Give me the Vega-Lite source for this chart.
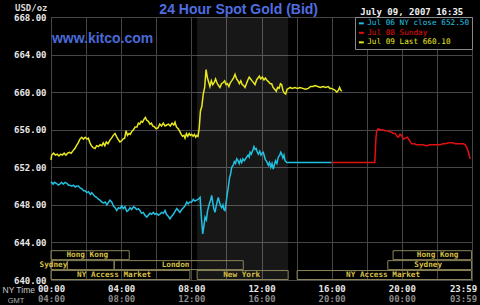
{
"$schema": "https://vega.github.io/schema/vega-lite/v6.json",
"width": 421, "height": 263,
"autosize": {"type": "none"},
"padding": {"left": 51, "top": 17, "right": 8, "bottom": 25},
"background": "#000000",
"config": {
  "view": {"stroke": "#5a5a5a", "strokeWidth": 1},
  "axis": {"domain": false, "ticks": false, "gridColor": "#464646", "gridWidth": 1, "labelFont": "DejaVu Sans Mono", "labelFontWeight": "bold", "labelFontSize": 9, "labelOverlap": false, "tickCount": 40}
},
"datasets": {
"sessions": [
{"m":"Hong Kong","tier":"1","start":0,"end":4.46,"at":2.07},
{"m":"Sydney","tier":"2","start":0,"end":0.93,"at":0.14},
{"m":"","tier":"2","start":0.93,"end":3.6,"at":2.2},
{"m":"London","tier":"2","start":3.6,"end":10.96,"at":7.1},
{"m":"NY Access Market","tier":"3","start":0,"end":7.92,"at":3.6},
{"m":"New York","tier":"3","start":8.33,"end":13.52,"at":10.87},
{"m":"NY Access Market","tier":"3","start":14.03,"end":23.97,"at":18.93},
{"m":"Sydney","tier":"2","start":19.2,"end":23.97,"at":21.5},
{"m":"Hong Kong","tier":"1","start":19.5,"end":23.97,"at":22.04}
],
"prices": [
{"s":"Jul 09","h":0.00,"p":652.8},{"s":"Jul 09","h":0.04,"p":653.3},{"s":"Jul 09","h":0.15,"p":653.5},{"s":"Jul 09","h":0.25,"p":653.3},{"s":"Jul 09","h":0.35,"p":653.4},{"s":"Jul 09","h":0.45,"p":653.2},{"s":"Jul 09","h":0.55,"p":653.4},{"s":"Jul 09","h":0.65,"p":653.3},{"s":"Jul 09","h":0.75,"p":653.5},{"s":"Jul 09","h":0.85,"p":653.3},{"s":"Jul 09","h":0.95,"p":653.5},{"s":"Jul 09","h":1.05,"p":653.6},{"s":"Jul 09","h":1.15,"p":653.5},{"s":"Jul 09","h":1.27,"p":653.8},{"s":"Jul 09","h":1.36,"p":654.0},{"s":"Jul 09","h":1.45,"p":654.3},{"s":"Jul 09","h":1.55,"p":654.6},{"s":"Jul 09","h":1.65,"p":655.0},{"s":"Jul 09","h":1.75,"p":655.2},{"s":"Jul 09","h":1.85,"p":655.0},{"s":"Jul 09","h":1.95,"p":655.2},{"s":"Jul 09","h":2.05,"p":655.0},{"s":"Jul 09","h":2.13,"p":655.1},{"s":"Jul 09","h":2.22,"p":654.6},{"s":"Jul 09","h":2.3,"p":654.3},{"s":"Jul 09","h":2.4,"p":654.1},{"s":"Jul 09","h":2.51,"p":654.0},{"s":"Jul 09","h":2.6,"p":654.3},{"s":"Jul 09","h":2.7,"p":654.2},{"s":"Jul 09","h":2.8,"p":654.4},{"s":"Jul 09","h":2.9,"p":654.3},{"s":"Jul 09","h":2.98,"p":654.6},{"s":"Jul 09","h":3.07,"p":654.3},{"s":"Jul 09","h":3.15,"p":654.7},{"s":"Jul 09","h":3.25,"p":654.5},{"s":"Jul 09","h":3.36,"p":654.9},{"s":"Jul 09","h":3.45,"p":655.1},{"s":"Jul 09","h":3.55,"p":655.4},{"s":"Jul 09","h":3.65,"p":655.6},{"s":"Jul 09","h":3.73,"p":655.3},{"s":"Jul 09","h":3.82,"p":655.0},{"s":"Jul 09","h":3.93,"p":654.7},{"s":"Jul 09","h":4.02,"p":654.8},{"s":"Jul 09","h":4.1,"p":655.0},{"s":"Jul 09","h":4.2,"p":655.1},{"s":"Jul 09","h":4.28,"p":655.9},{"s":"Jul 09","h":4.36,"p":655.4},{"s":"Jul 09","h":4.45,"p":655.6},{"s":"Jul 09","h":4.52,"p":655.5},{"s":"Jul 09","h":4.6,"p":655.8},{"s":"Jul 09","h":4.7,"p":656.0},{"s":"Jul 09","h":4.8,"p":656.3},{"s":"Jul 09","h":4.9,"p":656.3},{"s":"Jul 09","h":4.98,"p":656.7},{"s":"Jul 09","h":5.06,"p":656.6},{"s":"Jul 09","h":5.14,"p":656.9},{"s":"Jul 09","h":5.22,"p":656.8},{"s":"Jul 09","h":5.3,"p":657.1},{"s":"Jul 09","h":5.38,"p":657.3},{"s":"Jul 09","h":5.46,"p":657.0},{"s":"Jul 09","h":5.55,"p":656.9},{"s":"Jul 09","h":5.64,"p":656.6},{"s":"Jul 09","h":5.72,"p":656.7},{"s":"Jul 09","h":5.8,"p":656.4},{"s":"Jul 09","h":5.9,"p":656.3},{"s":"Jul 09","h":6.0,"p":656.1},{"s":"Jul 09","h":6.1,"p":656.2},{"s":"Jul 09","h":6.2,"p":656.6},{"s":"Jul 09","h":6.3,"p":656.4},{"s":"Jul 09","h":6.4,"p":656.7},{"s":"Jul 09","h":6.5,"p":656.4},{"s":"Jul 09","h":6.6,"p":656.5},{"s":"Jul 09","h":6.7,"p":656.6},{"s":"Jul 09","h":6.8,"p":656.4},{"s":"Jul 09","h":6.9,"p":656.7},{"s":"Jul 09","h":7.0,"p":656.5},{"s":"Jul 09","h":7.07,"p":656.8},{"s":"Jul 09","h":7.15,"p":656.3},{"s":"Jul 09","h":7.25,"p":656.1},{"s":"Jul 09","h":7.35,"p":655.8},{"s":"Jul 09","h":7.42,"p":655.5},{"s":"Jul 09","h":7.5,"p":655.3},{"s":"Jul 09","h":7.58,"p":655.4},{"s":"Jul 09","h":7.64,"p":655.1},{"s":"Jul 09","h":7.72,"p":655.6},{"s":"Jul 09","h":7.8,"p":655.3},{"s":"Jul 09","h":7.88,"p":655.6},{"s":"Jul 09","h":7.95,"p":655.4},{"s":"Jul 09","h":8.02,"p":655.5},{"s":"Jul 09","h":8.1,"p":655.3},{"s":"Jul 09","h":8.18,"p":655.5},{"s":"Jul 09","h":8.25,"p":655.2},{"s":"Jul 09","h":8.32,"p":655.4},{"s":"Jul 09","h":8.38,"p":655.3},{"s":"Jul 09","h":8.45,"p":656.2},{"s":"Jul 09","h":8.52,"p":658.0},{"s":"Jul 09","h":8.6,"p":658.5},{"s":"Jul 09","h":8.68,"p":659.8},{"s":"Jul 09","h":8.76,"p":660.5},{"s":"Jul 09","h":8.84,"p":662.4},{"s":"Jul 09","h":8.92,"p":661.5},{"s":"Jul 09","h":9.0,"p":661.0},{"s":"Jul 09","h":9.06,"p":660.6},{"s":"Jul 09","h":9.14,"p":661.2},{"s":"Jul 09","h":9.22,"p":660.8},{"s":"Jul 09","h":9.3,"p":661.0},{"s":"Jul 09","h":9.38,"p":661.4},{"s":"Jul 09","h":9.46,"p":661.0},{"s":"Jul 09","h":9.55,"p":660.7},{"s":"Jul 09","h":9.63,"p":660.5},{"s":"Jul 09","h":9.72,"p":660.9},{"s":"Jul 09","h":9.8,"p":661.0},{"s":"Jul 09","h":9.9,"p":661.2},{"s":"Jul 09","h":9.98,"p":660.8},{"s":"Jul 09","h":10.06,"p":660.9},{"s":"Jul 09","h":10.14,"p":660.6},{"s":"Jul 09","h":10.22,"p":661.0},{"s":"Jul 09","h":10.3,"p":661.2},{"s":"Jul 09","h":10.4,"p":661.5},{"s":"Jul 09","h":10.49,"p":661.9},{"s":"Jul 09","h":10.58,"p":661.4},{"s":"Jul 09","h":10.66,"p":661.2},{"s":"Jul 09","h":10.74,"p":660.9},{"s":"Jul 09","h":10.82,"p":661.2},{"s":"Jul 09","h":10.9,"p":660.8},{"s":"Jul 09","h":10.98,"p":660.7},{"s":"Jul 09","h":11.06,"p":660.5},{"s":"Jul 09","h":11.14,"p":660.9},{"s":"Jul 09","h":11.22,"p":661.3},{"s":"Jul 09","h":11.3,"p":661.6},{"s":"Jul 09","h":11.38,"p":661.4},{"s":"Jul 09","h":11.46,"p":661.2},{"s":"Jul 09","h":11.55,"p":661.0},{"s":"Jul 09","h":11.63,"p":660.8},{"s":"Jul 09","h":11.72,"p":661.3},{"s":"Jul 09","h":11.8,"p":661.5},{"s":"Jul 09","h":11.88,"p":661.7},{"s":"Jul 09","h":11.96,"p":661.4},{"s":"Jul 09","h":12.05,"p":661.6},{"s":"Jul 09","h":12.14,"p":661.3},{"s":"Jul 09","h":12.22,"p":661.5},{"s":"Jul 09","h":12.3,"p":661.3},{"s":"Jul 09","h":12.4,"p":661.1},{"s":"Jul 09","h":12.5,"p":660.9},{"s":"Jul 09","h":12.58,"p":660.9},{"s":"Jul 09","h":12.66,"p":660.5},{"s":"Jul 09","h":12.75,"p":660.3},{"s":"Jul 09","h":12.84,"p":660.1},{"s":"Jul 09","h":12.92,"p":660.5},{"s":"Jul 09","h":13.0,"p":660.4},{"s":"Jul 09","h":13.08,"p":660.9},{"s":"Jul 09","h":13.15,"p":660.8},{"s":"Jul 09","h":13.22,"p":660.2},{"s":"Jul 09","h":13.3,"p":659.9},{"s":"Jul 09","h":13.38,"p":659.8},{"s":"Jul 09","h":13.46,"p":660.3},{"s":"Jul 09","h":13.55,"p":660.4},{"s":"Jul 09","h":13.63,"p":660.5},{"s":"Jul 09","h":13.75,"p":660.4},{"s":"Jul 09","h":13.9,"p":660.5},{"s":"Jul 09","h":14.05,"p":660.4},{"s":"Jul 09","h":14.2,"p":660.5},{"s":"Jul 09","h":14.35,"p":660.4},{"s":"Jul 09","h":14.5,"p":660.3},{"s":"Jul 09","h":14.67,"p":660.4},{"s":"Jul 09","h":14.8,"p":660.6},{"s":"Jul 09","h":14.95,"p":660.6},{"s":"Jul 09","h":15.05,"p":660.7},{"s":"Jul 09","h":15.2,"p":660.6},{"s":"Jul 09","h":15.35,"p":660.5},{"s":"Jul 09","h":15.52,"p":660.6},{"s":"Jul 09","h":15.65,"p":660.5},{"s":"Jul 09","h":15.8,"p":660.6},{"s":"Jul 09","h":15.9,"p":660.4},{"s":"Jul 09","h":16.0,"p":660.4},{"s":"Jul 09","h":16.1,"p":660.3},{"s":"Jul 09","h":16.2,"p":660.2},{"s":"Jul 09","h":16.29,"p":660.0},{"s":"Jul 09","h":16.38,"p":660.2},{"s":"Jul 09","h":16.45,"p":660.5},{"s":"Jul 09","h":16.52,"p":660.2},{"s":"Jul 09","h":16.58,"p":660.1},
{"s":"Jul 06","h":0.00,"p":650.3},{"s":"Jul 06","h":0.04,"p":650.4},{"s":"Jul 06","h":0.12,"p":650.2},{"s":"Jul 06","h":0.2,"p":650.4},{"s":"Jul 06","h":0.3,"p":650.3},{"s":"Jul 06","h":0.42,"p":650.1},{"s":"Jul 06","h":0.5,"p":650.2},{"s":"Jul 06","h":0.6,"p":650.4},{"s":"Jul 06","h":0.7,"p":650.2},{"s":"Jul 06","h":0.8,"p":650.4},{"s":"Jul 06","h":0.9,"p":650.3},{"s":"Jul 06","h":1.0,"p":650.1},{"s":"Jul 06","h":1.08,"p":650.1},{"s":"Jul 06","h":1.18,"p":650.0},{"s":"Jul 06","h":1.28,"p":650.1},{"s":"Jul 06","h":1.38,"p":649.9},{"s":"Jul 06","h":1.48,"p":650.0},{"s":"Jul 06","h":1.56,"p":650.0},{"s":"Jul 06","h":1.66,"p":649.8},{"s":"Jul 06","h":1.76,"p":649.7},{"s":"Jul 06","h":1.86,"p":649.5},{"s":"Jul 06","h":1.94,"p":649.5},{"s":"Jul 06","h":2.04,"p":649.3},{"s":"Jul 06","h":2.14,"p":649.4},{"s":"Jul 06","h":2.24,"p":649.1},{"s":"Jul 06","h":2.32,"p":649.3},{"s":"Jul 06","h":2.41,"p":649.1},{"s":"Jul 06","h":2.5,"p":648.9},{"s":"Jul 06","h":2.6,"p":648.8},{"s":"Jul 06","h":2.7,"p":648.6},{"s":"Jul 06","h":2.79,"p":648.5},{"s":"Jul 06","h":2.9,"p":648.3},{"s":"Jul 06","h":3.0,"p":648.2},{"s":"Jul 06","h":3.1,"p":648.3},{"s":"Jul 06","h":3.18,"p":648.0},{"s":"Jul 06","h":3.26,"p":648.2},{"s":"Jul 06","h":3.36,"p":648.5},{"s":"Jul 06","h":3.46,"p":648.3},{"s":"Jul 06","h":3.55,"p":647.9},{"s":"Jul 06","h":3.65,"p":647.7},{"s":"Jul 06","h":3.75,"p":647.4},{"s":"Jul 06","h":3.84,"p":647.7},{"s":"Jul 06","h":3.94,"p":647.6},{"s":"Jul 06","h":4.03,"p":647.9},{"s":"Jul 06","h":4.12,"p":647.6},{"s":"Jul 06","h":4.22,"p":647.8},{"s":"Jul 06","h":4.32,"p":647.3},{"s":"Jul 06","h":4.41,"p":647.4},{"s":"Jul 06","h":4.5,"p":647.7},{"s":"Jul 06","h":4.6,"p":647.5},{"s":"Jul 06","h":4.7,"p":647.8},{"s":"Jul 06","h":4.79,"p":647.7},{"s":"Jul 06","h":4.88,"p":647.5},{"s":"Jul 06","h":4.98,"p":647.6},{"s":"Jul 06","h":5.07,"p":647.4},{"s":"Jul 06","h":5.16,"p":647.1},{"s":"Jul 06","h":5.26,"p":647.2},{"s":"Jul 06","h":5.36,"p":646.9},{"s":"Jul 06","h":5.46,"p":646.7},{"s":"Jul 06","h":5.55,"p":646.9},{"s":"Jul 06","h":5.64,"p":647.1},{"s":"Jul 06","h":5.74,"p":647.0},{"s":"Jul 06","h":5.83,"p":647.2},{"s":"Jul 06","h":5.92,"p":647.0},{"s":"Jul 06","h":6.02,"p":647.1},{"s":"Jul 06","h":6.12,"p":646.9},{"s":"Jul 06","h":6.21,"p":647.0},{"s":"Jul 06","h":6.3,"p":647.2},{"s":"Jul 06","h":6.4,"p":647.1},{"s":"Jul 06","h":6.5,"p":647.4},{"s":"Jul 06","h":6.58,"p":647.0},{"s":"Jul 06","h":6.68,"p":646.8},{"s":"Jul 06","h":6.78,"p":646.5},{"s":"Jul 06","h":6.88,"p":646.8},{"s":"Jul 06","h":6.98,"p":647.0},{"s":"Jul 06","h":7.07,"p":647.3},{"s":"Jul 06","h":7.17,"p":647.6},{"s":"Jul 06","h":7.26,"p":647.4},{"s":"Jul 06","h":7.35,"p":647.2},{"s":"Jul 06","h":7.45,"p":647.5},{"s":"Jul 06","h":7.55,"p":647.7},{"s":"Jul 06","h":7.64,"p":647.9},{"s":"Jul 06","h":7.74,"p":648.3},{"s":"Jul 06","h":7.82,"p":648.1},{"s":"Jul 06","h":7.92,"p":648.3},{"s":"Jul 06","h":8.02,"p":648.3},{"s":"Jul 06","h":8.11,"p":648.6},{"s":"Jul 06","h":8.2,"p":648.4},{"s":"Jul 06","h":8.3,"p":648.5},{"s":"Jul 06","h":8.4,"p":648.6},{"s":"Jul 06","h":8.5,"p":648.8},{"s":"Jul 06","h":8.58,"p":646.5},{"s":"Jul 06","h":8.65,"p":644.9},{"s":"Jul 06","h":8.72,"p":645.8},{"s":"Jul 06","h":8.78,"p":646.7},{"s":"Jul 06","h":8.86,"p":646.4},{"s":"Jul 06","h":8.92,"p":647.3},{"s":"Jul 06","h":8.97,"p":647.7},{"s":"Jul 06","h":9.04,"p":648.2},{"s":"Jul 06","h":9.1,"p":648.5},{"s":"Jul 06","h":9.16,"p":649.0},{"s":"Jul 06","h":9.22,"p":648.3},{"s":"Jul 06","h":9.28,"p":647.6},{"s":"Jul 06","h":9.35,"p":647.2},{"s":"Jul 06","h":9.42,"p":647.9},{"s":"Jul 06","h":9.48,"p":648.4},{"s":"Jul 06","h":9.54,"p":648.8},{"s":"Jul 06","h":9.6,"p":648.3},{"s":"Jul 06","h":9.67,"p":647.9},{"s":"Jul 06","h":9.73,"p":647.7},{"s":"Jul 06","h":9.8,"p":648.0},{"s":"Jul 06","h":9.86,"p":647.5},{"s":"Jul 06","h":9.92,"p":647.4},{"s":"Jul 06","h":9.98,"p":648.2},{"s":"Jul 06","h":10.05,"p":649.2},{"s":"Jul 06","h":10.11,"p":649.9},{"s":"Jul 06","h":10.18,"p":650.9},{"s":"Jul 06","h":10.24,"p":651.3},{"s":"Jul 06","h":10.3,"p":652.0},{"s":"Jul 06","h":10.38,"p":652.2},{"s":"Jul 06","h":10.45,"p":652.6},{"s":"Jul 06","h":10.52,"p":652.4},{"s":"Jul 06","h":10.59,"p":652.9},{"s":"Jul 06","h":10.66,"p":652.7},{"s":"Jul 06","h":10.73,"p":652.4},{"s":"Jul 06","h":10.8,"p":652.8},{"s":"Jul 06","h":10.87,"p":652.5},{"s":"Jul 06","h":10.94,"p":652.9},{"s":"Jul 06","h":11.02,"p":652.7},{"s":"Jul 06","h":11.09,"p":652.9},{"s":"Jul 06","h":11.16,"p":653.1},{"s":"Jul 06","h":11.24,"p":653.3},{"s":"Jul 06","h":11.3,"p":653.1},{"s":"Jul 06","h":11.35,"p":653.6},{"s":"Jul 06","h":11.42,"p":653.4},{"s":"Jul 06","h":11.5,"p":653.8},{"s":"Jul 06","h":11.57,"p":654.2},{"s":"Jul 06","h":11.64,"p":653.9},{"s":"Jul 06","h":11.7,"p":654.0},{"s":"Jul 06","h":11.76,"p":653.6},{"s":"Jul 06","h":11.82,"p":653.4},{"s":"Jul 06","h":11.9,"p":653.7},{"s":"Jul 06","h":11.97,"p":653.3},{"s":"Jul 06","h":12.04,"p":653.5},{"s":"Jul 06","h":12.1,"p":653.6},{"s":"Jul 06","h":12.16,"p":653.2},{"s":"Jul 06","h":12.22,"p":652.8},{"s":"Jul 06","h":12.3,"p":652.6},{"s":"Jul 06","h":12.39,"p":652.2},{"s":"Jul 06","h":12.46,"p":652.5},{"s":"Jul 06","h":12.53,"p":652.0},{"s":"Jul 06","h":12.6,"p":652.4},{"s":"Jul 06","h":12.67,"p":651.8},{"s":"Jul 06","h":12.74,"p":652.3},{"s":"Jul 06","h":12.8,"p":652.7},{"s":"Jul 06","h":12.88,"p":652.4},{"s":"Jul 06","h":12.96,"p":653.1},{"s":"Jul 06","h":13.04,"p":653.3},{"s":"Jul 06","h":13.1,"p":653.6},{"s":"Jul 06","h":13.15,"p":653.4},{"s":"Jul 06","h":13.22,"p":653.0},{"s":"Jul 06","h":13.28,"p":653.3},{"s":"Jul 06","h":13.34,"p":652.7},{"s":"Jul 06","h":13.44,"p":652.5},{"s":"Jul 06","h":16.0,"p":652.5},
{"s":"Jul 08","h":16.0,"p":652.5},{"s":"Jul 08","h":18.46,"p":652.5},{"s":"Jul 08","h":18.52,"p":655.0},{"s":"Jul 08","h":18.57,"p":655.9},{"s":"Jul 08","h":18.66,"p":656.1},{"s":"Jul 08","h":18.76,"p":656.0},{"s":"Jul 08","h":18.9,"p":656.0},{"s":"Jul 08","h":19.04,"p":655.9},{"s":"Jul 08","h":19.14,"p":655.9},{"s":"Jul 08","h":19.3,"p":655.8},{"s":"Jul 08","h":19.45,"p":655.7},{"s":"Jul 08","h":19.52,"p":655.6},{"s":"Jul 08","h":19.62,"p":655.6},{"s":"Jul 08","h":19.72,"p":655.3},{"s":"Jul 08","h":19.8,"p":655.2},{"s":"Jul 08","h":19.9,"p":655.5},{"s":"Jul 08","h":19.98,"p":655.4},{"s":"Jul 08","h":20.09,"p":655.0},{"s":"Jul 08","h":20.2,"p":655.1},{"s":"Jul 08","h":20.31,"p":655.2},{"s":"Jul 08","h":20.42,"p":654.9},{"s":"Jul 08","h":20.56,"p":654.5},{"s":"Jul 08","h":20.7,"p":654.5},{"s":"Jul 08","h":20.85,"p":654.4},{"s":"Jul 08","h":21.04,"p":654.4},{"s":"Jul 08","h":21.2,"p":654.4},{"s":"Jul 08","h":21.4,"p":654.3},{"s":"Jul 08","h":21.61,"p":654.4},{"s":"Jul 08","h":21.8,"p":654.4},{"s":"Jul 08","h":22.0,"p":654.4},{"s":"Jul 08","h":22.18,"p":654.4},{"s":"Jul 08","h":22.35,"p":654.5},{"s":"Jul 08","h":22.5,"p":654.5},{"s":"Jul 08","h":22.65,"p":654.6},{"s":"Jul 08","h":22.75,"p":654.6},{"s":"Jul 08","h":22.9,"p":654.6},{"s":"Jul 08","h":23.05,"p":654.5},{"s":"Jul 08","h":23.13,"p":654.5},{"s":"Jul 08","h":23.3,"p":654.5},{"s":"Jul 08","h":23.51,"p":654.5},{"s":"Jul 08","h":23.62,"p":654.4},{"s":"Jul 08","h":23.7,"p":654.1},{"s":"Jul 08","h":23.78,"p":653.7},{"s":"Jul 08","h":23.85,"p":653.2},{"s":"Jul 08","h":23.89,"p":652.9}
]
},
"layer": [
  {
    "data": {"name": "sessions"},
    "transform": [{"filter": "datum.m == 'New York'"}],
    "mark": {"type": "rect", "fill": "#ffffff", "fillOpacity": 0.09},
    "encoding": {
      "x": {"field": "start", "type": "quantitative", "scale": {"domain": [0, 24], "nice": false},
        "axis": {"orient": "bottom", "offset": 10, "values": [0, 4, 8, 12, 16, 20, 24], "tickCount": 40, "grid": false, "labelFlush": false, "labelOverlap": false,
          "labelExpr": "datum.value == 24 ? '03:59' : ((datum.value + 4) % 24 < 10 ? '0' : '') + ((datum.value + 4) % 24) + ':00'",
          "labelColor": "#8a8a8a", "labelPadding": 4,
          "labelOffset": {"condition": {"test": "datum.value == 24", "value": -9}, "value": 0},
          "title": "GMT", "titleX": -35.5, "titleY": 10, "titleAlign": "center", "titleBaseline": "middle", "titleAngle": 0,
          "titleFont": "Liberation Sans", "titleFontSize": 7.5, "titleFontWeight": "normal", "titleColor": "#b0b0b0"}},
      "x2": {"field": "end"}
    }
  },
  {
    "data": {"name": "sessions"},
    "layer": [
      {
        "mark": {"type": "rect", "fill": null, "stroke": "#8a8458", "strokeWidth": 1},
        "encoding": {
          "x": {"field": "start", "type": "quantitative", "axis": null},
          "x2": {"field": "end"},
          "y": {"field": "tier", "type": "ordinal", "scale": {"range": [233.7, 262.5], "paddingInner": 0.1, "paddingOuter": 0}, "axis": null}
        }
      },
      {
        "mark": {"type": "text", "color": "#d8c048", "font": "DejaVu Sans Mono", "fontSize": 7.7, "fontWeight": "bold", "baseline": "middle", "align": "center"},
        "encoding": {
          "x": {"field": "at", "type": "quantitative", "axis": null},
          "y": {"field": "tier", "type": "ordinal", "axis": null},
          "text": {"field": "m"}
        }
      }
    ]
  },
  {
    "layer": [
      {
        "data": {"name": "prices"},
        "mark": {"type": "line", "strokeWidth": 1.5},
        "encoding": {
          "x": {"field": "h", "type": "quantitative", "scale": {"domain": [0, 24], "nice": false},
            "axis": {"orient": "bottom", "values": [0, 2, 4, 6, 8, 10, 12, 14, 16, 18, 20, 22, 24], "tickCount": 40, "grid": true, "labelFlush": false, "labelOverlap": false,
              "labelExpr": "datum.value % 4 == 0 ? (datum.value == 24 ? '23:59' : (datum.value < 10 ? '0' : '') + datum.value + ':00') : ''",
              "labelColor": "#e8e8e8", "labelPadding": 4,
              "labelOffset": {"condition": {"test": "datum.value == 24", "value": -9}, "value": 0},
              "title": "NY Time", "titleX": -49, "titleY": 9, "titleAlign": "left", "titleBaseline": "middle", "titleAngle": 0,
              "titleFont": "Liberation Sans", "titleFontSize": 8.5, "titleFontWeight": "normal", "titleColor": "#c8c8c8"}},
          "y": {"field": "p", "type": "quantitative", "scale": {"domain": [640, 668], "nice": false, "zero": false},
            "axis": {"values": [640, 644, 648, 652, 656, 660, 664, 668], "tickCount": 40, "format": ".2f", "grid": true, "labelOverlap": false, "labelColor": "#e8e8e8", "labelPadding": 5,
              "title": "USD/oz", "titleAngle": 0, "titleX": -4, "titleY": -9.5, "titleAlign": "right", "titleBaseline": "middle",
              "titleFont": "DejaVu Sans Mono", "titleFontSize": 9, "titleFontWeight": "bold", "titleColor": "#d8d8d8"}},
          "color": {"field": "s", "type": "nominal",
            "scale": {"domain": ["Jul 06", "Jul 08", "Jul 09"], "range": ["#22c0e0", "#e01010", "#e8e820"]},
            "legend": {"orient": "top-right", "offset": 0, "title": null, "symbolType": "stroke", "symbolSize": 24, "symbolStrokeWidth": 2,
              "labelExpr": "datum.value == 'Jul 06' ? 'Jul 06 NY close 652.50' : datum.value == 'Jul 08' ? 'Jul 08 Sunday' : 'Jul 09 Last 660.10'",
              "labelColor": {"expr": "datum.value == 'Jul 08' ? '#e01010' : datum.value == 'Jul 09' ? '#e8e820' : '#22c0e0'"},
              "labelFont": "DejaVu Sans Mono", "labelFontSize": 7.7, "labelOffset": 2, "labelLimit": 200,
              "fillColor": "#000000", "strokeColor": "#888888", "padding": 2.5, "rowPadding": 0.5}}
        }
      },
      {
        "data": {"values": [{}]},
        "mark": {"type": "text", "text": "24 Hour Spot Gold (Bid)", "font": "Liberation Sans", "fontSize": 14, "fontWeight": "bold", "color": "#4f6ee0", "align": "center", "baseline": "alphabetic"},
        "encoding": {"x": {"datum": 10.7, "type": "quantitative"}, "y": {"datum": 668.3, "type": "quantitative"}}
      },
      {
        "data": {"values": [{}]},
        "mark": {"type": "text", "text": "www.kitco.com", "font": "Liberation Sans", "fontSize": 14, "fontWeight": "bold", "color": "#4a6ad8", "align": "left", "baseline": "alphabetic"},
        "encoding": {"x": {"datum": 0.05, "type": "quantitative"}, "y": {"datum": 665.25, "type": "quantitative"}}
      },
      {
        "data": {"values": [{}]},
        "mark": {"type": "text", "text": "July 09, 2007 16:35", "font": "DejaVu Sans Mono", "fontSize": 9, "fontWeight": "bold", "color": "#f0f0f0", "align": "right", "baseline": "alphabetic"},
        "encoding": {"x": {"datum": 23.5, "type": "quantitative"}, "y": {"datum": 668.19, "type": "quantitative"}}
      }
    ]
  }
],
"resolve": {"scale": {"y": "independent"}, "axis": {"x": "independent"}}
}
